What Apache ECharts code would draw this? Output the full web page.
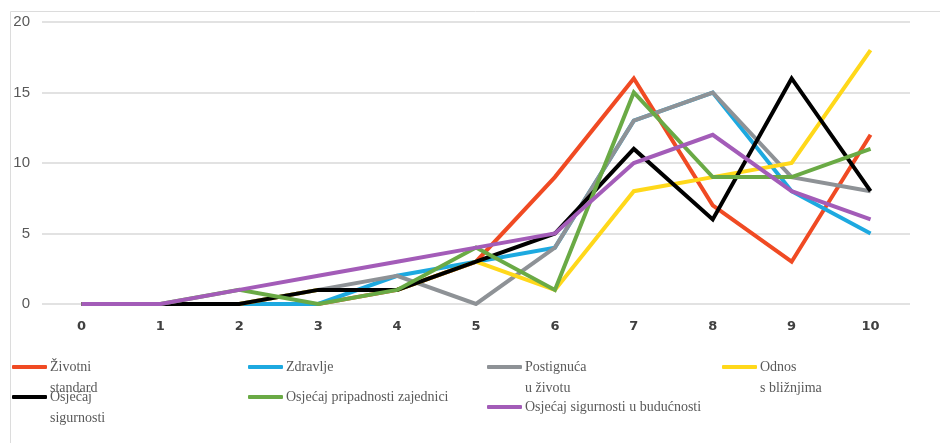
<!DOCTYPE html>
<html>
<head>
<meta charset="utf-8">
<script src="https://cdn.jsdelivr.net/npm/echarts@6/dist/echarts.min.js"></script>
<style>html,body{margin:0;padding:0;background:#fff;}#c{width:940px;height:443px;}</style>
</head>
<body>
<div id="c"></div>
<script>
var categories = ['0', '1', '2', '3', '4', '5', '6', '7', '8', '9', '10'];
var yTicks = [0, 5, 10, 15, 20];
var seriesNames = [
  'Životni\nstandard',
  'Zdravlje',
  'Postignuća\nu životu',
  'Odnos\ns bližnjima',
  'Osjećaj\nsigurnosti',
  'Osjećaj pripadnosti zajednici',
  'Osjećaj sigurnosti u budućnosti'
];
var zivotniStandard   = [0, 0, 0, 0, 1, 3, 9, 16, 7, 3, 12];
var zdravlje          = [0, 0, 0, 0, 2, 3, 4, 13, 15, 8, 5];
var postignuca        = [0, 0, 0, 1, 2, 0, 4, 13, 15, 9, 8];
var odnos             = [0, 0, 0, 1, 1, 3, 1, 8, 9, 10, 18];
var osjecajSigurnosti = [0, 0, 0, 1, 1, 3, 5, 11, 6, 16, 8];
var pripadnost        = [0, 0, 1, 0, 1, 4, 1, 15, 9, 9, 11];
var buducnost         = [0, 0, 1, 2, 3, 4, 5, 10, 12, 8, 6];

var seriesValues = [zivotniStandard, zdravlje, postignuca, odnos, osjecajSigurnosti, pripadnost, buducnost];
var colors = ['#F04A23', '#1DA9E0', '#8E9296', '#FFD81A', '#000000', '#6AAA45', '#A35CB8'];

var legendPos = [
  {left: 12, icon: 367}, {left: 248, icon: 367}, {left: 487, icon: 367}, {left: 722, icon: 367},
  {left: 12, icon: 397}, {left: 248, icon: 397}, {left: 487, icon: 407}
];
var LH = 21;
var legends = seriesNames.map(function (n, i) {
  var multi = n.indexOf('\n') >= 0;
  var h = multi ? 3 * LH : LH;
  return {
    data: [n],
    left: legendPos[i].left,
    top: legendPos[i].icon - h / 2,
    padding: 0,
    icon: 'roundRect',
    itemWidth: 35,
    itemHeight: 4,
    itemGap: 0,
    selectedMode: false,
    formatter: function (name) { return name.indexOf('\n') >= 0 ? '\n' + name : name; },
    textStyle: {fontFamily: 'Liberation Serif', fontSize: 14, color: '#595959', lineHeight: LH, padding: [0, 0, 0, -2]}
  };
});

var chart = echarts.init(document.getElementById('c'), null, {renderer: 'canvas'});
chart.setOption({
  animation: false,
  backgroundColor: '#ffffff',
  color: colors,
  graphic: [{
    type: 'rect', left: 8, top: 9, silent: true,
    shape: {width: 940, height: 440},
    style: {fill: 'none', stroke: '#dcdcdc', lineWidth: 1}
  }],
  legend: legends,
  grid: {left: 42, right: 30, top: 22, bottom: 139},
  xAxis: {
    type: 'category', data: categories, boundaryGap: true,
    axisLine: {show: false}, axisTick: {show: false}, splitLine: {show: false},
    axisLabel: {margin: 16, fontFamily: 'DejaVu Sans', fontWeight: 'bold', fontSize: 13, color: '#404040'}
  },
  yAxis: {
    type: 'value', min: 0, max: 20, interval: 5,
    axisLine: {show: false}, axisTick: {show: false},
    splitLine: {lineStyle: {color: '#d9d9d9', width: 1.5}},
    axisLabel: {margin: 12, fontFamily: 'Liberation Sans', fontSize: 15, color: '#595959',
      formatter: function (v) { return yTicks.indexOf(v) >= 0 ? String(v) : ''; }}
  },
  series: seriesNames.map(function (n, i) {
    return {
      name: n, type: 'line', symbol: 'none', silent: true,
      data: seriesValues[i],
      lineStyle: {width: 4, color: colors[i], join: 'miter'},
      itemStyle: {color: colors[i]}
    };
  })
});
</script>
</body>
</html>
